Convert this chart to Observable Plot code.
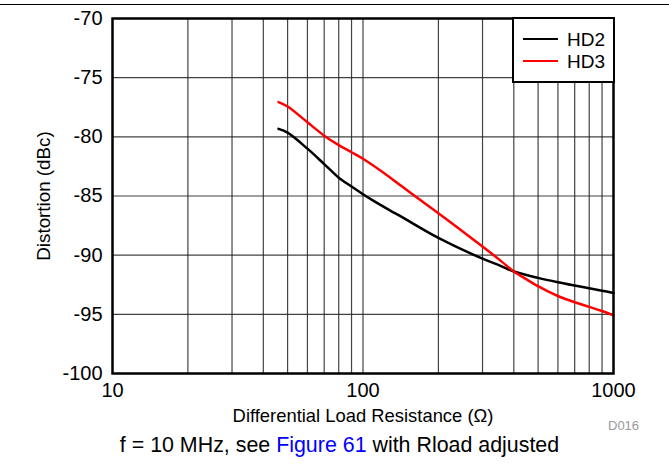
<!DOCTYPE html>
<html><head><meta charset="utf-8">
<script src="https://cdn.jsdelivr.net/npm/d3@7"></script>
<script src="https://cdn.jsdelivr.net/npm/@observablehq/plot@0.6"></script>
<style>
body{margin:0;background:#fff;font-family:"Liberation Sans",Arial,sans-serif;}
#wrap{position:relative;width:669px;height:466px;}
#topline{position:absolute;left:0;top:4px;width:669px;height:0;border-top:1.5px solid #000;}
#legend{position:absolute;left:512px;top:17px;width:99px;height:62px;border:2.5px solid #000;background:#fff;box-sizing:content-box;}
.li{position:absolute;left:9px;width:35px;height:0;border-top:2.5px solid #000;}
.lt{position:absolute;left:53px;font-size:19px;line-height:19px;color:#000;}
#caption{position:absolute;left:0;top:433px;width:679px;text-align:center;font-size:21.4px;line-height:24px;color:#000;}
#caption span{color:#0000ff;}
#did{position:absolute;left:608px;top:418px;font-size:13px;line-height:15px;color:#999;}
</style></head>
<body>
<div id="wrap">
<div id="chart"></div>
<div id="topline"></div>
<div id="legend">
  <div class="li" style="top:19px;border-color:#000"></div><div class="lt" style="top:11px">HD2</div>
  <div class="li" style="top:41px;border-color:#ff0000"></div><div class="lt" style="top:33px">HD3</div>
</div>
<div id="did">D016</div>
<div id="caption">f = 10 MHz, see <span>Figure 61</span> with Rload adjusted</div>
</div>
<script>
const hd2R = [46, 50, 60, 70, 80, 90, 100, 109, 129, 141, 200, 300, 354, 400, 500, 600, 700, 800, 900, 1000];
const hd2V = [-79.33, -79.65, -81.0, -82.3, -83.45, -84.2, -84.85, -85.35, -86.25, -86.7, -88.54, -90.3, -90.9, -91.38, -91.92, -92.29, -92.57, -92.8, -93.0, -93.19];
const hd3R = [46, 50, 60, 70, 80, 90, 100, 129, 141, 162, 200, 300, 354, 400, 450, 500, 550, 600, 700, 800, 900, 1000];
const hd3V = [-77.07, -77.44, -78.77, -79.9, -80.7, -81.3, -81.85, -83.47, -84.1, -85.04, -86.45, -89.27, -90.46, -91.38, -92.05, -92.62, -93.08, -93.45, -93.98, -94.37, -94.72, -95.08];
const xTicks = [10, 100, 1000];
const xGrid = [20,30,40,50,60,70,80,90,100,200,300,400,500,600,700,800,900];
const yTicks = [-100, -95, -90, -85, -80, -75, -70];
const yGrid = [-95, -90, -85, -80, -75];

const hd2 = hd2R.map((r,i)=>({r, v: hd2V[i]}));
const hd3 = hd3R.map((r,i)=>({r, v: hd3V[i]}));

const plot = Plot.plot({
  width: 669, height: 433,
  marginLeft: 112, marginRight: 56, marginTop: 18, marginBottom: 60,
  style: {fontFamily: '"Liberation Sans", Arial, sans-serif', fontSize: "20px", color: "#000", background: "#fff"},
  x: {type: "log", domain: [10, 1000]},
  y: {domain: [-100, -70]},
  marks: [
    Plot.gridX(xGrid, {stroke: "#222", strokeOpacity: 0.85, strokeWidth: 1.2}),
    Plot.gridY(yGrid, {stroke: "#222", strokeOpacity: 0.85, strokeWidth: 1.2}),
    Plot.line(hd2, {x: "r", y: "v", stroke: "#000", strokeWidth: 2.5, curve: "catmull-rom"}),
    Plot.line(hd3, {x: "r", y: "v", stroke: "#ff0000", strokeWidth: 2.5, curve: "catmull-rom"}),
    Plot.frame({stroke: "#000", strokeWidth: 2.5}),
    Plot.axisX(xTicks, {tickSize: 0, tickPadding: 9, tickFormat: d => String(d), fontSize: 20,
      label: null}),
    Plot.axisY(yTicks, {tickSize: 0, tickPadding: 10, tickFormat: d => String(d), fontSize: 20,
      label: null}),
    Plot.text(["Differential Load Resistance (Ω)"], {frameAnchor: "bottom", lineAnchor: "middle", dy: 43, fontSize: 18.4, fill: "#000"}),
    Plot.text(["Distortion (dBc)"], {frameAnchor: "left", textAnchor: "middle", lineAnchor: "middle", dx: -69, rotate: -90, fontSize: 18.8, fill: "#000"})
  ]
});
document.getElementById("chart").appendChild(plot);
</script>
</body></html>
